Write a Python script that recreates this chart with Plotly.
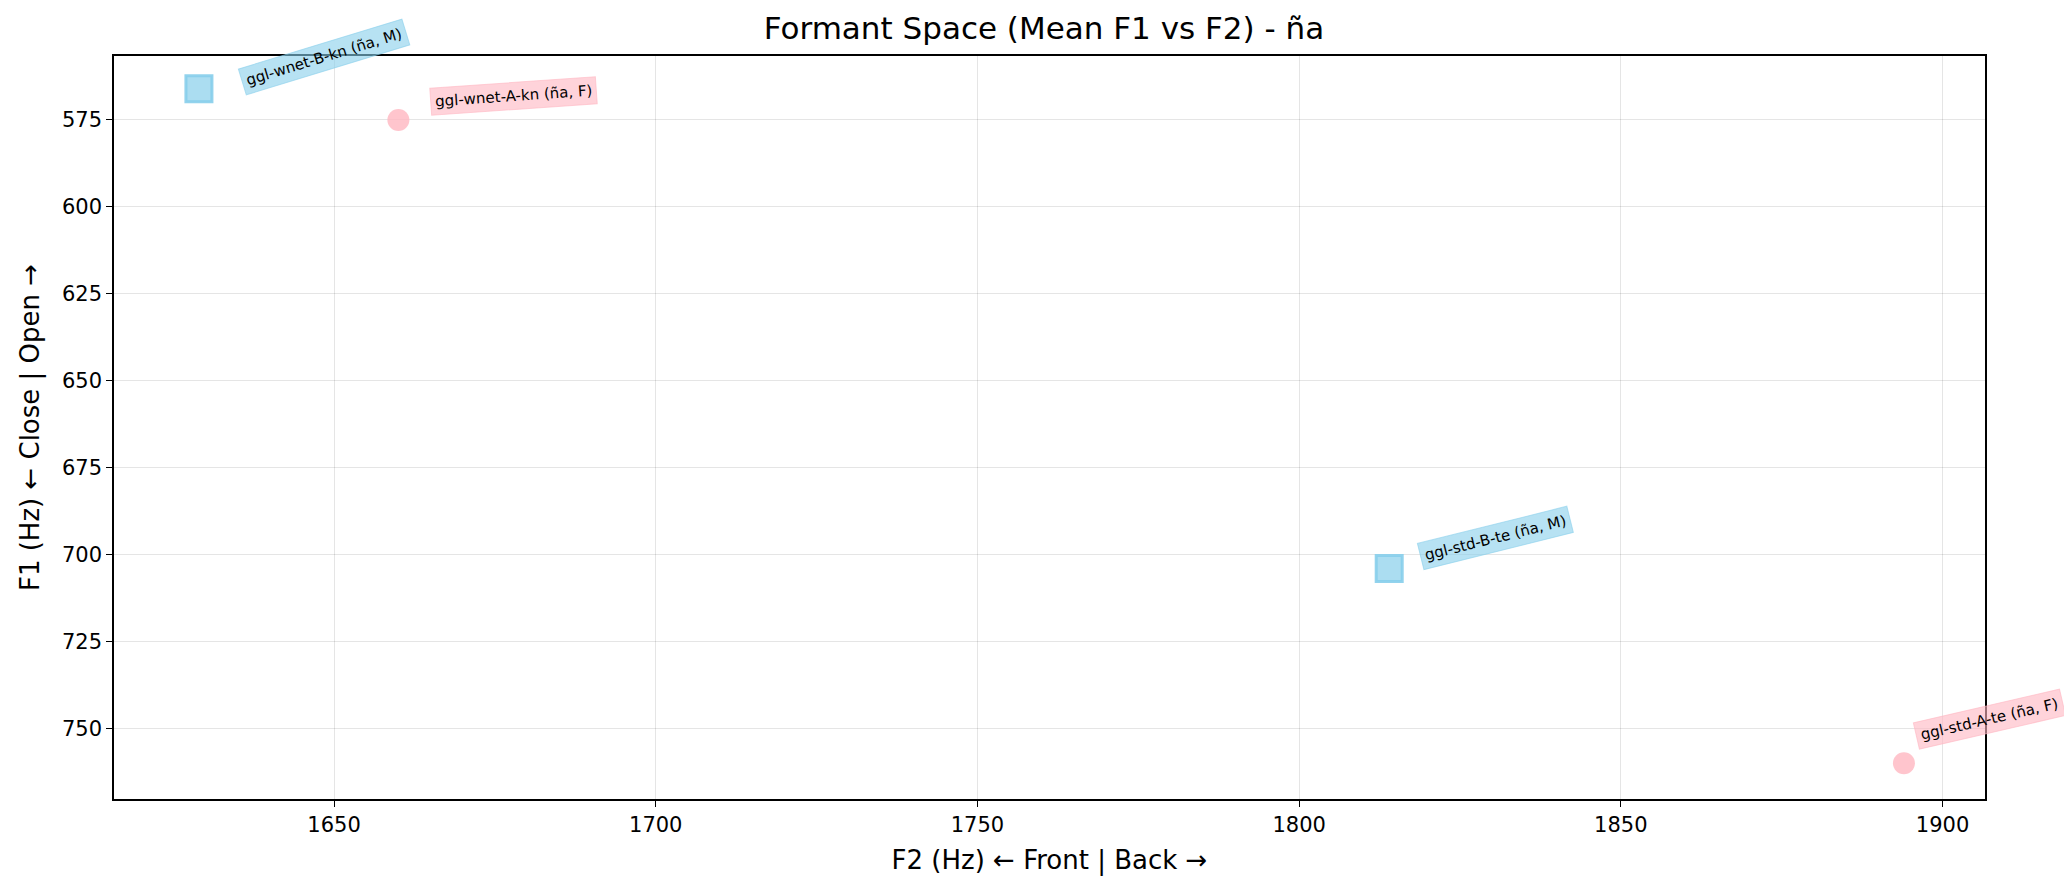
import plotly.graph_objects as go

labels = ["ggl-wnet-B-kn (ña, M)", "ggl-wnet-A-kn (ña, F)", "ggl-std-B-te (ña, M)", "ggl-std-A-te (ña, F)"]
f2 = [1629, 1660, 1814, 1894]
f1 = [566, 575, 704, 760]
gender = ["M", "F", "M", "F"]
# label offsets (px) and angles of the rotated text boxes
shift_x = [125, 115, 106, 86]
shift_y = [32, 24, 30, 44]
angles = [-17, -4, -14, -13]

fig = go.Figure()
for g, col, sym, sz in [("M", "rgba(135,206,235,0.7)", "square", 26), ("F", "rgba(255,182,193,0.8)", "circle", 22)]:
    idx = [i for i in range(len(labels)) if gender[i] == g]
    fig.add_trace(go.Scatter(
        x=[f2[i] for i in idx], y=[f1[i] for i in idx], mode="markers",
        marker=dict(symbol=sym, size=sz, color=col,
                    line=dict(color="rgba(135,206,235,0.9)" if g == "M" else "rgba(255,182,193,0.8)", width=3 if g == "M" else 0)),
        showlegend=False))

for i in range(len(labels)):
    bg = "rgba(135,206,235,0.6)" if gender[i] == "M" else "rgba(255,182,193,0.6)"
    fig.add_annotation(x=f2[i], y=f1[i], text=labels[i], showarrow=False,
                       xshift=shift_x[i], yshift=shift_y[i], textangle=angles[i],
                       font=dict(size=15, color="black", family="DejaVu Sans"),
                       bgcolor=bg, bordercolor=bg, borderwidth=1, borderpad=4)

axis = dict(showline=True, linecolor="black", linewidth=1.5, mirror=True, ticks="outside",
            tickcolor="black", ticklen=6, showgrid=True, gridcolor="rgba(0,0,0,0.1)",
            zeroline=False, tickfont=dict(size=21, color="black"))
fig.update_xaxes(axis, range=[1615.8, 1906.6], tickvals=[1650, 1700, 1750, 1800, 1850, 1900],
                 title=dict(text="F2 (Hz) ← Front | Back →", font=dict(size=26, color="black")))
fig.update_yaxes(axis, range=[770.3, 556.6], tickvals=[575, 600, 625, 650, 675, 700, 725, 750],
                 title=dict(text="F1 (Hz) ← Close | Open →", font=dict(size=26, color="black")))
fig.update_layout(
    width=2072, height=883, plot_bgcolor="white", paper_bgcolor="white",
    font=dict(family="DejaVu Sans"),
    title=dict(text="Formant Space (Mean F1 vs F2) - ña", x=0.5, xanchor="center", y=0.99, yanchor="top",
               font=dict(size=31, color="black")),
    margin=dict(l=106, r=95, t=48, b=92))
fig.write_html("out.html")
